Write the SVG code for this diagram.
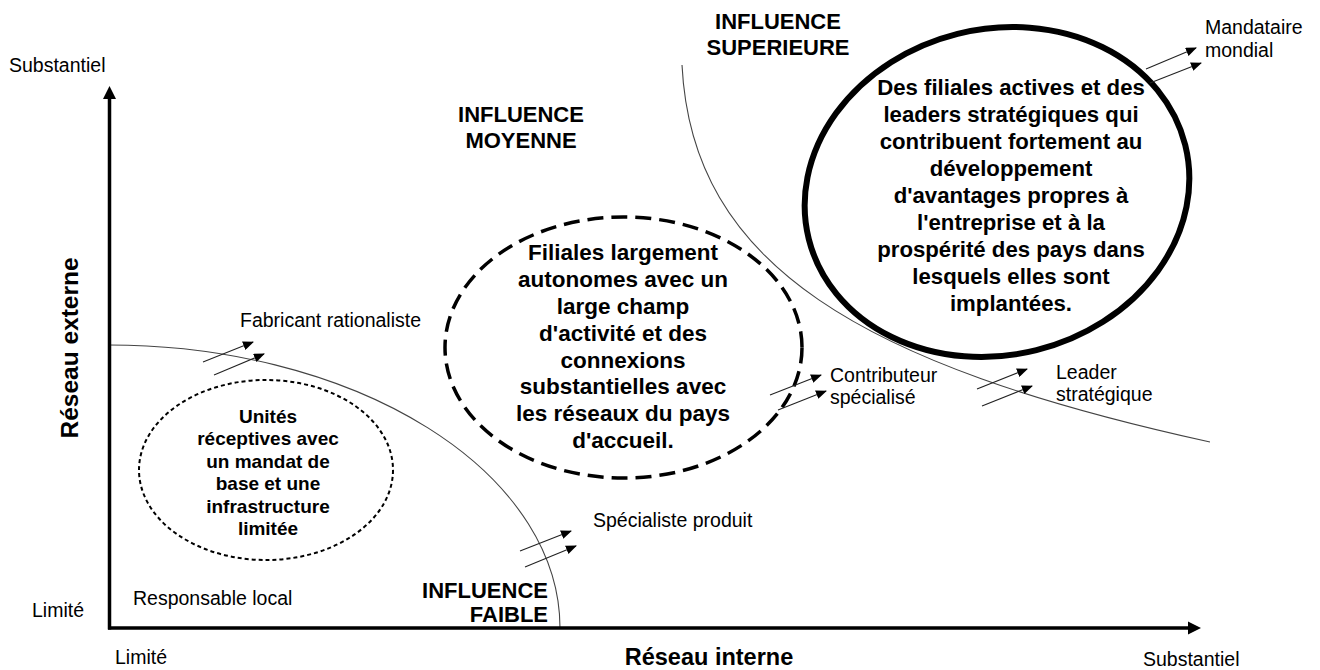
<svg xmlns="http://www.w3.org/2000/svg" width="1320" height="670" viewBox="0 0 1320 670">
<style>
text{font-family:"Liberation Sans",Arial,sans-serif;fill:#000}
.lbl{font-size:19.5px}
.inf{font-size:22px;font-weight:bold}
.big{font-size:22.5px;font-weight:bold;text-anchor:middle}
.big2{font-size:22.2px;font-weight:bold;text-anchor:middle}
.sm{font-size:19px;font-weight:bold;text-anchor:middle}
.axt{font-size:23.5px;font-weight:bold;text-anchor:middle}
.bnd{fill:none;stroke:#444;stroke-width:1.1}
.conn line{stroke:#222;stroke-width:1.1;marker-end:url(#ah)}
</style>
<defs>
<marker id="ah" markerUnits="userSpaceOnUse" markerWidth="11" markerHeight="9" refX="10" refY="4.5" orient="auto">
<path d="M0,0 L11,4.5 L0,9 z" fill="#000"/>
</marker>
</defs>
<rect width="1320" height="670" fill="#fff"/>
<g id="boundaries">
<path class="bnd" d="M109,345 A451,283 0 0 1 560,628"/>
<path class="bnd" d="M682,65 C692,265 860,365 1210,442"/>
</g>
<g id="axes">
<line x1="109.5" y1="96" x2="109.5" y2="629.5" stroke="#000" stroke-width="3.5"/>
<line x1="108" y1="628" x2="1190" y2="628" stroke="#000" stroke-width="3.5"/>
<polygon points="109.5,86 103,99 116,99" fill="#000"/>
<polygon points="1201,628 1188,621.5 1188,634.5" fill="#000"/>
<text class="lbl" x="9" y="72">Substantiel</text>
<text class="lbl" x="32" y="617">Limité</text>
<text class="lbl" x="115" y="664">Limité</text>
<text class="lbl" x="1143" y="666">Substantiel</text>
<text class="axt" x="709" y="665">Réseau interne</text>
<text class="axt" transform="translate(78,348) rotate(-90)" x="0" y="0" style="font-size:24.5px">Réseau externe</text>
</g>
<g id="zone-faible">
<text class="inf" x="548" y="598" text-anchor="end">INFLUENCE</text>
<text class="inf" x="548" y="622" text-anchor="end">FAIBLE</text>
</g>
<g id="zone-moyenne">
<text class="inf" x="521" y="122" text-anchor="middle">INFLUENCE</text>
<text class="inf" x="521" y="148" text-anchor="middle">MOYENNE</text>
</g>
<g id="zone-superieure">
<text class="inf" x="778" y="29" text-anchor="middle">INFLUENCE</text>
<text class="inf" x="778" y="55" text-anchor="middle">SUPERIEURE</text>
</g>
<g id="node-unites">
<ellipse cx="266" cy="470" rx="127" ry="90" fill="none" stroke="#000" stroke-width="2" stroke-dasharray="4 3"/>
<text class="sm" x="268" y="423">Unités</text>
<text class="sm" x="268" y="445.4">réceptives avec</text>
<text class="sm" x="268" y="467.8">un mandat de</text>
<text class="sm" x="268" y="490.2">base et une</text>
<text class="sm" x="268" y="512.6">infrastructure</text>
<text class="sm" x="268" y="535">limitée</text>
</g>
<g id="node-filiales">
<ellipse cx="623.5" cy="347.5" rx="178.5" ry="130.5" fill="none" stroke="#000" stroke-width="3.5" stroke-dasharray="16 8"/>
<text class="big" x="623" y="260">Filiales largement</text>
<text class="big" x="623" y="287">autonomes avec un</text>
<text class="big" x="623" y="314">large champ</text>
<text class="big" x="623" y="341">d'activité et des</text>
<text class="big" x="623" y="368">connexions</text>
<text class="big" x="623" y="394">substantielles avec</text>
<text class="big" x="623" y="421">les réseaux du pays</text>
<text class="big" x="623" y="448">d'accueil.</text>
</g>
<g id="node-leaders">
<ellipse cx="997" cy="192" rx="194" ry="163" transform="rotate(-14 997 192)" fill="none" stroke="#000" stroke-width="6"/>
<text class="big2" x="1011" y="95">Des filiales actives et des</text>
<text class="big2" x="1011" y="122">leaders stratégiques qui</text>
<text class="big2" x="1011" y="149">contribuent fortement au</text>
<text class="big2" x="1011" y="176">développement</text>
<text class="big2" x="1011" y="203">d'avantages propres à</text>
<text class="big2" x="1011" y="230">l'entreprise et à la</text>
<text class="big2" x="1011" y="257">prospérité des pays dans</text>
<text class="big2" x="1011" y="284">lesquels elles sont</text>
<text class="big2" x="1011" y="311">implantées.</text>
</g>
<g id="label-fabricant"><text class="lbl" x="240" y="327">Fabricant rationaliste</text></g>
<g id="label-responsable"><text class="lbl" x="133" y="605">Responsable local</text></g>
<g id="label-specialiste"><text class="lbl" x="593" y="527">Spécialiste produit</text></g>
<g id="label-contributeur"><text class="lbl" x="830" y="382">Contributeur</text><text class="lbl" x="830" y="404">spécialisé</text></g>
<g id="label-leader"><text class="lbl" x="1056" y="379">Leader</text><text class="lbl" x="1056" y="401">stratégique</text></g>
<g id="label-mandataire"><text class="lbl" x="1205" y="34">Mandataire</text><text class="lbl" x="1205" y="57">mondial</text></g>
<g id="connectors" class="conn">
<line x1="203" y1="362" x2="253" y2="342"/>
<line x1="214" y1="375" x2="264" y2="354"/>
<line x1="520" y1="551" x2="571" y2="531"/>
<line x1="525" y1="567" x2="576" y2="546"/>
<line x1="770" y1="395" x2="821" y2="375"/>
<line x1="778" y1="410" x2="826" y2="391"/>
<line x1="977" y1="389" x2="1027" y2="369"/>
<line x1="982" y1="406" x2="1032" y2="386"/>
<line x1="1146" y1="69" x2="1196" y2="48"/>
<line x1="1150" y1="83" x2="1201" y2="63"/>
</g>
</svg>
